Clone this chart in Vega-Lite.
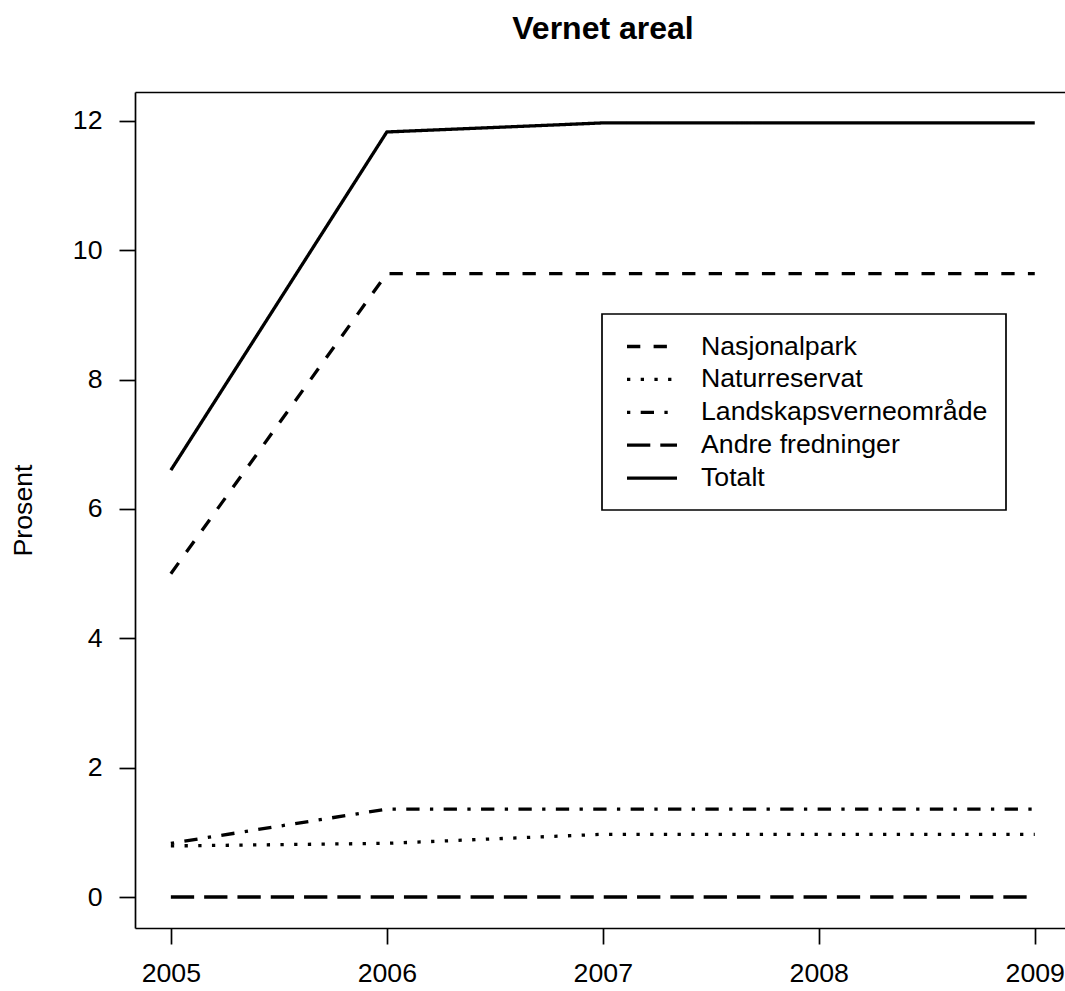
{
  "$schema": "https://vega.github.io/schema/vega-lite/v6.json",
  "autosize": {"type": "none"},
  "padding": {"left": 135, "top": 92, "right": 0, "bottom": 63},
  "width": 930,
  "height": 836,
  "background": "white",
  "title": {"text": "Vernet areal", "font": "Liberation Sans", "fontSize": 32, "fontWeight": "bold", "color": "black", "anchor": "middle", "baseline": "alphabetic", "offset": 21, "dx": 3},
  "config": {
    "view": {"stroke": null},
    "font": "Liberation Sans",
    "legend": {"strokeWidth": 1.7}
  },
  "data": {"values": [
    {"serie": "Nasjonalpark", "aar": 2005, "verdi": 5.0},
    {"serie": "Nasjonalpark", "aar": 2006, "verdi": 9.64},
    {"serie": "Nasjonalpark", "aar": 2007, "verdi": 9.64},
    {"serie": "Nasjonalpark", "aar": 2008, "verdi": 9.64},
    {"serie": "Nasjonalpark", "aar": 2009, "verdi": 9.64},
    {"serie": "Naturreservat", "aar": 2005, "verdi": 0.79},
    {"serie": "Naturreservat", "aar": 2006, "verdi": 0.83},
    {"serie": "Naturreservat", "aar": 2007, "verdi": 0.97},
    {"serie": "Naturreservat", "aar": 2008, "verdi": 0.97},
    {"serie": "Naturreservat", "aar": 2009, "verdi": 0.97},
    {"serie": "Landskapsverneområde", "aar": 2005, "verdi": 0.83},
    {"serie": "Landskapsverneområde", "aar": 2006, "verdi": 1.36},
    {"serie": "Landskapsverneområde", "aar": 2007, "verdi": 1.36},
    {"serie": "Landskapsverneområde", "aar": 2008, "verdi": 1.36},
    {"serie": "Landskapsverneområde", "aar": 2009, "verdi": 1.36},
    {"serie": "Andre fredninger", "aar": 2005, "verdi": 0.0},
    {"serie": "Andre fredninger", "aar": 2006, "verdi": 0.0},
    {"serie": "Andre fredninger", "aar": 2007, "verdi": 0.0},
    {"serie": "Andre fredninger", "aar": 2008, "verdi": 0.0},
    {"serie": "Andre fredninger", "aar": 2009, "verdi": 0.0},
    {"serie": "Totalt", "aar": 2005, "verdi": 6.6},
    {"serie": "Totalt", "aar": 2006, "verdi": 11.83},
    {"serie": "Totalt", "aar": 2007, "verdi": 11.97},
    {"serie": "Totalt", "aar": 2008, "verdi": 11.97},
    {"serie": "Totalt", "aar": 2009, "verdi": 11.97}
  ]},
  "layer": [
    {
      "mark": {"type": "line", "color": "black", "strokeWidth": 3.3, "strokeCap": "butt", "strokeJoin": "round", "clip": true},
      "encoding": {
        "x": {"field": "aar", "type": "quantitative",
              "scale": {"domain": [2004.834, 2009.14], "nice": false, "zero": false},
              "axis": {"orient": "bottom", "title": null, "values": [2005, 2006, 2007, 2008, 2009], "format": "d",
                       "grid": false, "domainColor": "black", "domainWidth": 1.7, "tickColor": "black", "tickWidth": 1.7,
                       "tickSize": 16, "labelFontSize": 26.7, "labelFont": "Liberation Sans", "labelColor": "black",
                       "labelPadding": 16, "labelBaseline": "top", "labelFlush": false, "labelOverlap": false}},
        "y": {"field": "verdi", "type": "quantitative",
              "scale": {"domain": [-0.479, 12.448], "nice": false, "zero": false},
              "axis": {"title": "Prosent", "values": [0, 2, 4, 6, 8, 10, 12], "format": "d", "grid": false,
                       "domainColor": "black", "domainWidth": 1.7, "tickColor": "black", "tickWidth": 1.7,
                       "tickSize": 16, "labelFontSize": 26.7, "labelFont": "Liberation Sans", "labelColor": "black",
                       "labelPadding": 17, "labelAlign": "right", "labelBaseline": "middle", "labelFlush": false, "labelOverlap": false,
                       "titleFont": "Liberation Sans", "titleFontSize": 26.7, "titleFontWeight": "normal", "titleColor": "black",
                       "titleAngle": 270, "titleAlign": "center", "titleBaseline": "alphabetic", "titleX": -103.3, "titleY": 418}},
        "strokeDash": {"field": "serie", "type": "nominal",
              "scale": {"domain": ["Nasjonalpark", "Naturreservat", "Landskapsverneområde", "Andre fredninger", "Totalt"],
                        "range": [[13.3, 13.3], [3.3, 10.4], [3.3, 10.4, 13.3, 10.4], [23.3, 10], [1, 0]]},
              "legend": {"orient": "none", "legendX": 467, "legendY": 222, "title": null,
                         "strokeColor": "black", "fillColor": "white", "padding": 18,
                         "symbolType": "M-2,0H2", "symbolSize": 625, "symbolStrokeWidth": 3.3, "symbolStrokeColor": "black",
                         "symbolOffset": 17.5, "labelOffset": 34.5, "labelFontSize": 26.7, "labelFont": "Liberation Sans",
                         "labelColor": "black", "rowPadding": 3.9, "labelLimit": 500}}
      }
    },
    {
      "mark": {"type": "line", "opacity": 0},
      "encoding": {
        "x": {"field": "aar", "type": "quantitative",
              "axis": {"orient": "top", "title": null, "labels": false, "ticks": false, "grid": false,
                       "domainColor": "black", "domainWidth": 1.7}},
        "y": {"field": "verdi", "type": "quantitative"},
        "detail": {"field": "serie"}
      }
    }
  ],
  "resolve": {"axis": {"x": "independent"}}
}
